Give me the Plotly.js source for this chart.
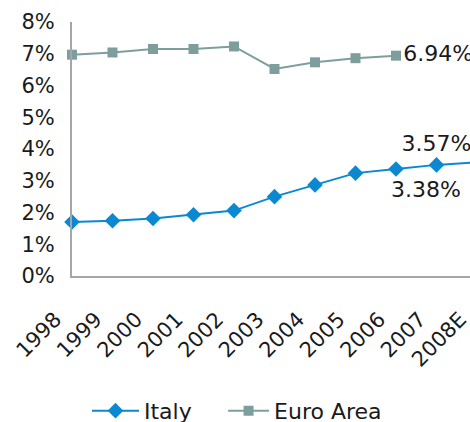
<!DOCTYPE html>
<html>
<head>
<meta charset="utf-8">
<script src="https://cdn.plot.ly/plotly-3.0.1.min.js"></script>
<style>
html, body { margin: 0; padding: 0; overflow: hidden; background: #fff; }
#chart { width: 490px; height: 460px; }
</style>
</head>
<body>
<div id="chart"></div>
<script>
const PCT = '\u0025';
const NBSP = '\u00a0';
const years = ['1998', '1999', '2000', '2001', '2002', '2003', '2004', '2005', '2006', '2007', '2008E'];
const italy = [1.70, 1.74, 1.81, 1.93, 2.06, 2.50, 2.87, 3.24, 3.37, 3.50, 3.58];
const euroArea = [6.97, 7.04, 7.15, 7.15, 7.23, 6.52, 6.73, 6.86, 6.94, null, null];
const yTicks = [0, 1, 2, 3, 4, 5, 6, 7, 8];
const yTickText = ['0', '1', '2', '3', '4', '5', '6', '7', '8'];
const italyLabels = ['', '', '', '', '', '', '', '', '', '3.57', ''];
const italyLowLabel = '3.38';
const italyLowYear = '2006';
const euroLabels = ['', '', '', '', '', '', '', '', '6.94', '', ''];

const FONT = 'DejaVu Sans, Verdana, sans-serif';
const TXT = '#1a1a1a';
const ITALY_COLOR = '#0A89D2';
const EURO_COLOR = '#7E9E9E';

const withPct = arr => arr.map(t => (t ? t + PCT : ''));
const lowIdx = years.indexOf(italyLowYear);

const traces = [
  {
    name: 'Italy', x: years, y: italy, type: 'scatter', mode: 'lines+markers+text',
    line: { color: ITALY_COLOR, width: 2 },
    marker: { symbol: 'diamond', size: 12, color: ITALY_COLOR },
    text: withPct(italyLabels), textposition: 'top center',
    textfont: { family: FONT, size: 22, color: TXT },
    cliponaxis: false, legend: 'legend'
  },
  {
    name: 'Euro Area', x: years, y: euroArea, type: 'scatter', mode: 'lines+markers+text',
    line: { color: EURO_COLOR, width: 2 },
    marker: { symbol: 'square', size: 10, color: EURO_COLOR },
    text: withPct(euroLabels), textposition: 'middle right',
    textfont: { family: FONT, size: 22, color: TXT },
    connectgaps: false, cliponaxis: false, legend: 'legend2'
  }
];

const legendFont = { family: FONT, size: 22, color: TXT };

const layout = {
  width: 490, height: 460,
  margin: { l: 72, r: 13, t: 22, b: 184 },
  paper_bgcolor: '#fff', plot_bgcolor: '#fff',
  font: { family: FONT, size: 21, color: TXT },
  showlegend: true,
  legend: {
    orientation: 'h', x: 0.037, xanchor: 'left', y: -0.531, yanchor: 'middle',
    itemwidth: 47, font: legendFont, bgcolor: 'rgba(0,0,0,0)'
  },
  legend2: {
    orientation: 'h', x: 0.373, xanchor: 'left', y: -0.531, yanchor: 'middle',
    itemwidth: 41, font: legendFont, bgcolor: 'rgba(0,0,0,0)'
  },
  xaxis: {
    type: 'category', range: [0, 10], showgrid: false, zeroline: false,
    showline: true, linecolor: '#A6A6A6', linewidth: 2,
    tickmode: 'array', tickvals: years, ticktext: years.map(y => y + NBSP),
    tickangle: -45, ticks: '', ticklabelstandoff: 16, ticklabelshift: -12,
    tickfont: { family: FONT, size: 21, color: TXT }
  },
  yaxis: {
    range: [0, 8], tickmode: 'array', tickvals: yTicks, ticktext: yTickText.map(t => t + PCT),
    showgrid: false, zeroline: false,
    showline: true, linecolor: '#A6A6A6', linewidth: 2,
    ticks: '', ticklabelstandoff: 11,
    tickfont: { family: FONT, size: 21, color: TXT }
  },
  annotations: [
    { xref: 'x', yref: 'y', x: lowIdx, y: italy[lowIdx], text: italyLowLabel + PCT,
      showarrow: false, xanchor: 'center', yanchor: 'middle', xshift: 30, yshift: -20,
      font: { family: FONT, size: 22, color: TXT } }
  ]
};

Plotly.newPlot('chart', traces, layout, { displayModeBar: false, staticPlot: true });
</script>
</body>
</html>
